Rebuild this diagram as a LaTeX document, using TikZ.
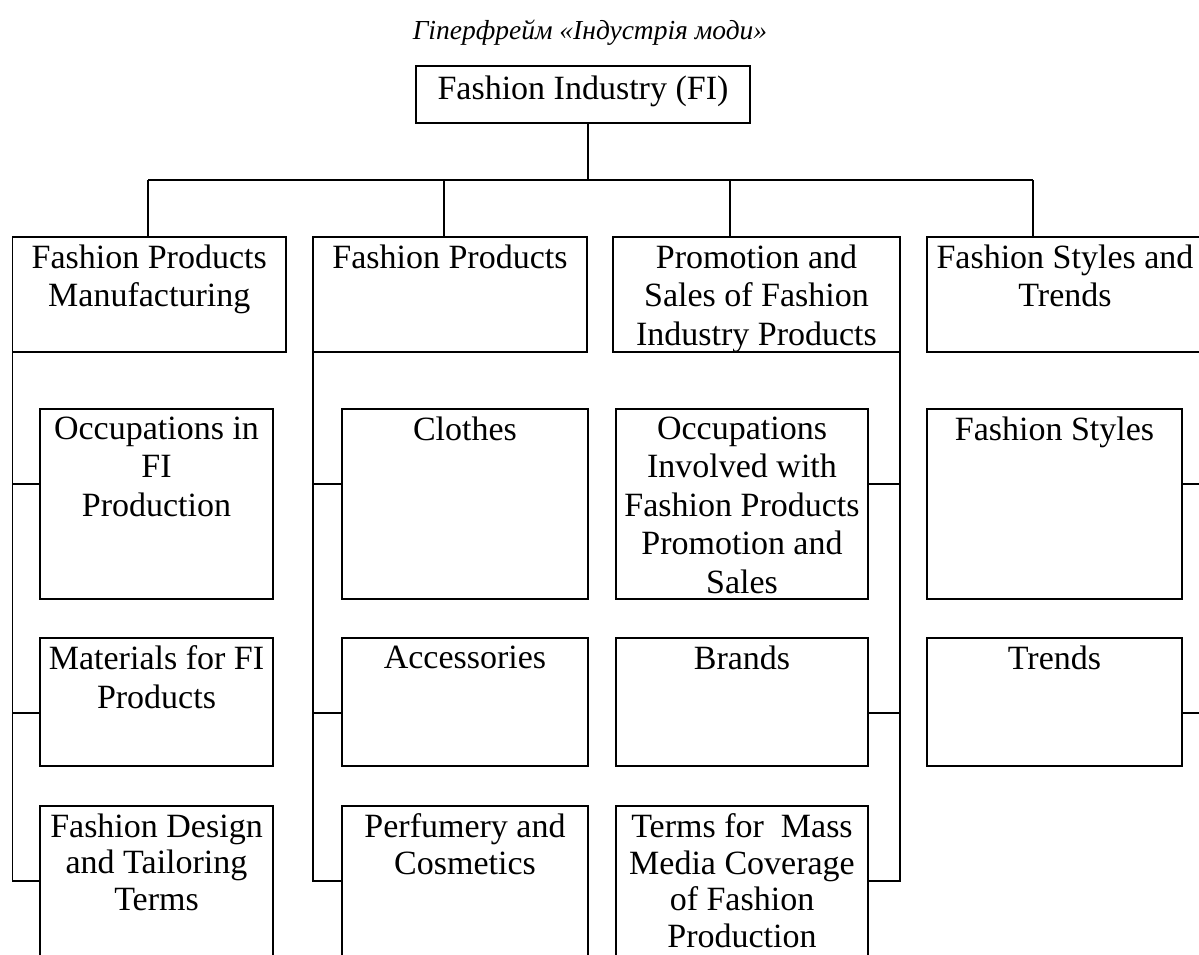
\documentclass[tikz,border=0pt]{standalone}
\usepackage{fontspec}
\setmainfont{Liberation Serif}
\usepackage{tikz}
\usetikzlibrary{positioning, calc}

\begin{document}
\begin{tikzpicture}[
    x=1pt, y=-1pt,
    line width=1.3pt,
    box/.style   = {draw, rectangle, inner sep=0pt, outer sep=0pt},
    txt/.style   = {anchor=north, align=center, inner sep=0pt, yshift=-7pt,
                    font={\fontsize{34}{38.5}\selectfont}},
    low/.style   = {txt, font={\fontsize{34}{36.5}\selectfont}},
    head/.style  = {box, minimum height=115},
    row1/.style  = {box, minimum height=190},
    row2/.style  = {box, minimum height=128},
    row3/.style  = {box, minimum height=184},
    ttl/.style   = {anchor=base, inner sep=0pt,
                    font={\fontsize{27.5}{32}\selectfont\itshape}},
  ]
  \useasboundingbox (0,0) rectangle (1199,954);
  \clip (0,0) rectangle (1199,954);

  \node[ttl] (title) at (590,39) {Гіперфрейм «Індустрія моди»};
  \node[box, minimum width=334, minimum height=57,
        label={[txt, yshift=-2pt]north:Fashion Industry (FI)}] (fi) at (583,94.5) {};

  % second level
  \node[head, minimum width=273.5,
        label={[txt]north:Fashion Products\\Manufacturing}] (man) at (149.25,294.5) {};
  \node[head, minimum width=274,
        label={[txt]north:Fashion Products}] (prd) at (450,294.5) {};
  \node[head, minimum width=287,
        label={[txt]north:Promotion and\\Sales of Fashion\\Industry Products}] (pro) at (756.5,294.5) {};
  \node[head, minimum width=276,
        label={[txt]north:Fashion Styles and\\Trends}] (sty) at (1065,294.5) {};

  % bus
  \coordinate (bus) at (588,180);
  \coordinate (dA) at (148,180);
  \coordinate (dB) at (444,180);
  \coordinate (dC) at (730,180);
  \coordinate (dD) at (1033,180);
  \draw (fi.south -| bus) -- (bus);
  \draw (dA) -- (dD);
  \foreach \d/\n in {dA/man, dB/prd, dC/pro, dD/sty}
    \draw (\d) -- (\d |- \n.north);

  % manufacturing
  \node[row1, minimum width=233,
        label={[txt]north:Occupations in\\FI\\Production}] (ocf) at (156.5,504) {};
  \node[row2, minimum width=233,
        label={[txt]north:Materials for FI\\Products}] (mat) at (156.5,702) {};
  \node[row3, minimum width=233,
        label={[low]north:Fashion Design\\and Tailoring\\Terms}] (fdt) at (156.5,898) {};
  \foreach \n in {ocf, mat, fdt}
    \draw (man.south west) |- ([yshift=-75pt]\n.north west);

  % products
  \node[row1, minimum width=246,
        label={[txt]north:Clothes}] (clo) at (465,504) {};
  \node[row2, minimum width=246,
        label={[txt]north:Accessories}] (acc) at (465,702) {};
  \node[row3, minimum width=246,
        label={[low]north:Perfumery and\\Cosmetics}] (prf) at (465,898) {};
  \foreach \n in {clo, acc, prf}
    \draw (prd.south west) |- ([yshift=-75pt]\n.north west);

  % promotion and sales
  \node[row1, minimum width=252,
        label={[txt]north:Occupations\\Involved with\\Fashion Products\\Promotion and\\Sales}] (ocp) at (742,504) {};
  \node[row2, minimum width=252,
        label={[txt]north:Brands}] (brd) at (742,702) {};
  \node[row3, minimum width=252,
        label={[low]north:Terms for~ Mass\\Media Coverage\\of Fashion\\Production}] (trm) at (742,898) {};
  \foreach \n in {ocp, brd, trm}
    \draw (pro.south east) |- ([yshift=-75pt]\n.north east);

  % styles and trends
  \node[row1, minimum width=255,
        label={[txt]north:Fashion Styles}] (fst) at (1054.5,504) {};
  \node[row2, minimum width=255,
        label={[txt]north:Trends}] (trd) at (1054.5,702) {};
  \foreach \n in {fst, trd}
    \draw (sty.south east) |- ([yshift=-75pt]\n.north east);
\end{tikzpicture}
\end{document}
